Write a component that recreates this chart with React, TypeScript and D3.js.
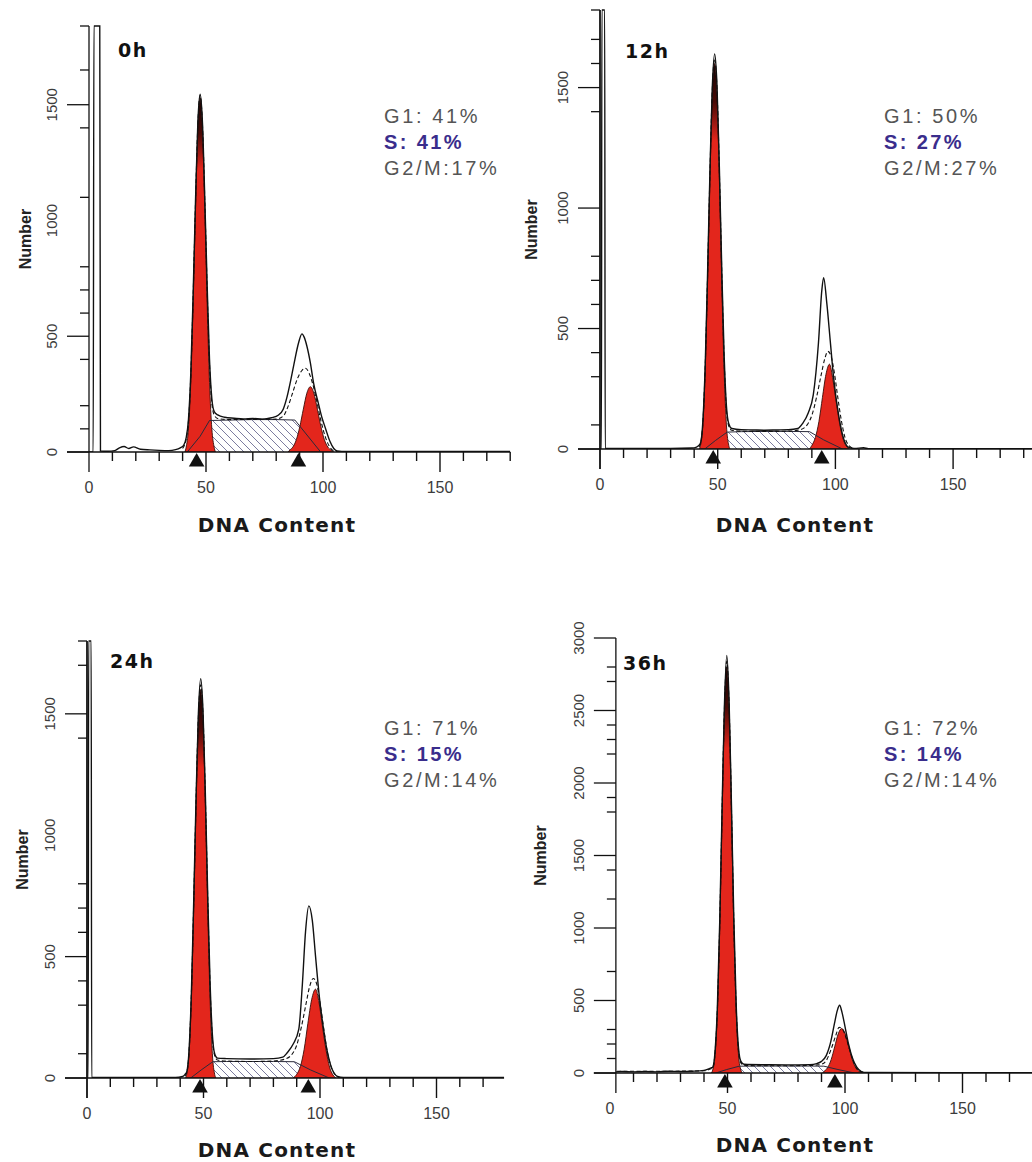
import React from 'react';
import * as d3 from 'd3';

type Pt = [number, number];

// ---------------- labels ----------------
const timeLabels = ['0h', '12h', '24h', '36h'];
const g1Labels = ['G1: 41%', 'G1: 50%', 'G1: 71%', 'G1: 72%'];
const sLabels = ['S: 41%', 'S: 27%', 'S: 15%', 'S: 14%'];
const g2Labels = ['G2/M:17%', 'G2/M:27%', 'G2/M:14%', 'G2/M:14%'];
const xTickLabels = [0, 50, 100, 150];
const xAxisTitle = 'DNA Content';
const yAxisTitle = 'Number';

const yLabels0 = [0, 500, 1000, 1500];
const yLabels1 = [0, 500, 1000, 1500];
const yLabels2 = [0, 500, 1000, 1500];
const yLabels3 = [0, 500, 1000, 1500, 2000, 2500, 3000];
const yMajor0 = [0, 500, 1500];
const yMajor1 = [0, 500, 1000, 1500];
const yMajor2 = [0, 500, 1500];
const yMajor3 = [0, 500, 1000, 1500, 2000, 2500, 3000];
const yMinor0 = [100, 200, 400, 600, 700, 800, 1100, 1400, 1650, 1840];
const yMinor1 = [100, 300, 400, 600, 700, 800, 1400, 1600, 1700, 1822];
const yMinor2 = [100, 300, 400, 600, 700, 800, 1400, 1700, 1800];
const yMinor3 = [100, 200, 300, 700, 1200, 1400, 1800, 1900, 2200, 2300, 2400, 2700, 2800];

// G1 / G2 mean markers (DNA content)
const markers0 = [46, 89.5];
const markers1 = [48.1, 94.2];
const markers2 = [48.5, 95];
const markers3 = [48.9, 95.7];

// ---------------- 0h ----------------
const g1Red0h: Pt[] = [[41, 0], [41.5, 20], [42.5, 100], [43.5, 300], [44.5, 640], [45.5, 1040], [46.5, 1390], [47.5, 1530], [48.5, 1390], [49.5, 1040], [50.5, 640], [51.5, 300], [52.5, 100], [53.5, 20], [54, 0]];
const g2Red0h: Pt[] = [[85, 0], [86, 10], [87.1, 21], [88.6, 53], [90.1, 110], [91.6, 185], [93.1, 254], [94.6, 282], [96.1, 254], [97.6, 185], [99.1, 110], [100.6, 53], [102.1, 21], [103.6, 7], [104.6, 0]];
const sPhase0h: Pt[] = [[42, 0], [47.5, 68], [51.5, 136], [60, 138], [70, 140], [80, 140], [88, 138], [93.5, 69], [99, 0]];
const data0h: Pt[] = [[0, 0], [1.8, 0], [2.1, 1840], [4.6, 1840], [4.9, 4], [8, 3], [11, 6], [13, 18], [15, 24], [17, 15], [19, 22], [22, 12], [26, 9], [30, 7], [34, 6], [37, 10], [39, 18], [40.5, 30], [41.5, 60], [42.5, 140], [43.5, 340], [44.5, 680], [45.5, 1080], [46.5, 1420], [47.5, 1545], [48.5, 1420], [49.5, 1090], [50.5, 720], [51.5, 400], [52.5, 230], [53.5, 175], [55, 160], [58, 150], [62, 146], [66, 143], [70, 145], [74, 142], [78, 148], [81, 160], [83, 185], [84.6, 237], [86, 300], [87.4, 370], [89.6, 473], [91, 510], [92, 495], [93.1, 458], [94.6, 385], [96, 296], [98.1, 207], [99.5, 150], [101, 104], [103, 45], [104.6, 15], [106, 5], [110, 2], [180, 2]];
const fit0h: Pt[] = [[40, 15], [41.5, 55], [42.5, 130], [43.5, 330], [44.5, 670], [45.5, 1070], [46.5, 1410], [47.5, 1540], [48.5, 1410], [49.5, 1080], [50.5, 700], [51.5, 380], [52.5, 210], [53.5, 160], [55, 145], [60, 140], [70, 141], [80, 142], [83, 155], [85, 195], [87, 255], [89, 315], [91, 352], [92.5, 362], [94, 342], [95.5, 298], [97, 235], [99, 140], [101, 65], [103, 20], [105, 4], [108, 0]];

// ---------------- 12h ----------------
const g1Red12h: Pt[] = [[42.2, 0], [42.7, 15], [43.7, 100], [44.7, 330], [45.7, 700], [46.7, 1120], [47.7, 1470], [48.7, 1600], [49.7, 1470], [50.7, 1120], [51.7, 700], [52.7, 330], [53.7, 100], [54.7, 15], [55.2, 0]];
const g2Red12h: Pt[] = [[89, 0], [90, 15], [91.5, 48], [93, 114], [94.5, 214], [96, 310], [97.5, 352], [99, 285], [100.5, 185], [102, 95], [103.5, 35], [105, 8], [106, 0]];
const sPhase12h: Pt[] = [[44.5, 0], [49, 35], [54, 70], [60, 72], [70, 73], [80, 73], [89, 72], [95, 38], [103, 0]];
const data12h: Pt[] = [[0, 0], [0.6, 0], [0.8, 1822], [2.0, 1822], [2.2, 2], [10, 2], [30, 2], [39, 4], [41, 8], [42, 15], [42.7, 25], [43.7, 115], [44.7, 350], [45.7, 730], [46.7, 1150], [47.7, 1500], [48.7, 1640], [49.7, 1510], [50.7, 1170], [51.7, 760], [52.7, 400], [53.7, 180], [54.7, 105], [56, 85], [60, 80], [65, 79], [70, 78], [75, 79], [80, 80], [84, 85], [86, 105], [88.5, 150], [90.6, 225], [92.8, 440], [94.2, 655], [95, 711], [96.4, 600], [97.8, 450], [99.3, 290], [101.4, 140], [103.6, 40], [105.5, 8], [108, 2], [112, 5], [114, 1], [183.5, 1]];
const fit12h: Pt[] = [[42, 8], [42.7, 22], [43.7, 110], [44.7, 345], [45.7, 720], [46.7, 1140], [47.7, 1490], [48.7, 1620], [49.7, 1495], [50.7, 1155], [51.7, 745], [52.7, 385], [53.7, 165], [54.7, 95], [56, 78], [60, 74], [70, 73], [80, 74], [85, 80], [88, 100], [90, 140], [92, 215], [94, 310], [95.5, 375], [96.8, 405], [98, 390], [99.5, 320], [101, 215], [102.5, 120], [104, 50], [106, 12], [108, 2]];

// ---------------- 24h ----------------
const g1Red24h: Pt[] = [[42.3, 0], [42.8, 15], [43.8, 100], [44.8, 330], [45.8, 700], [46.8, 1120], [47.8, 1470], [48.8, 1600], [49.8, 1470], [50.8, 1120], [51.8, 700], [52.8, 330], [53.8, 100], [54.8, 15], [55.3, 0]];
const g2Red24h: Pt[] = [[88.5, 0], [90, 15], [91.6, 48], [93.2, 118], [94.8, 225], [96.4, 322], [98.1, 366], [99.6, 310], [101.1, 210], [102.6, 115], [104.1, 45], [105.6, 12], [107, 0]];
const sPhase24h: Pt[] = [[44.5, 0], [49, 33], [54, 67], [60, 68], [70, 68], [80, 68], [89, 67], [96, 33], [104, 0]];
const data24h: Pt[] = [[0, 0], [0.5, 0], [0.7, 1800], [1.8, 1800], [2.0, 2], [10, 2], [38, 2], [41, 6], [42, 14], [42.8, 25], [43.8, 115], [44.8, 350], [45.8, 730], [46.8, 1150], [47.8, 1500], [48.8, 1645], [49.8, 1510], [50.8, 1170], [51.8, 760], [52.8, 400], [53.8, 180], [54.8, 100], [56, 82], [60, 80], [70, 78], [80, 80], [84, 86], [86, 105], [88.5, 140], [90.9, 201], [92.4, 381], [93.8, 604], [95.2, 709], [96.7, 649], [98.1, 500], [99.6, 345], [101.7, 190], [103.2, 105], [104.6, 52], [107.5, 7], [110, 2], [179, 2]];
const fit24h: Pt[] = [[42, 8], [42.8, 22], [43.8, 110], [44.8, 345], [45.8, 720], [46.8, 1140], [47.8, 1490], [48.8, 1620], [49.8, 1495], [50.8, 1155], [51.8, 745], [52.8, 385], [53.8, 165], [54.8, 92], [56, 74], [60, 70], [70, 68], [80, 70], [85, 78], [88, 98], [90, 135], [92, 210], [94, 305], [95.5, 375], [97.1, 410], [98.5, 390], [100, 310], [101.5, 210], [103, 115], [105, 40], [107, 8], [109, 0]];

// ---------------- 36h ----------------
const g1Red36h: Pt[] = [[43.2, 0], [43.7, 20], [44.7, 120], [45.7, 420], [46.7, 1000], [47.7, 1780], [48.7, 2500], [49.7, 2800], [50.7, 2500], [51.7, 1780], [52.7, 1000], [53.7, 420], [54.7, 120], [55.7, 20], [56.2, 0]];
const g2Red36h: Pt[] = [[90.5, 0], [91.1, 11], [92.6, 36], [94.1, 92], [95.6, 180], [97.1, 269], [98.6, 307], [100.1, 269], [101.6, 180], [103.1, 92], [104.6, 36], [106.1, 11], [107.5, 0]];
const sPhase36h: Pt[] = [[45, 0], [49.7, 24], [55, 47], [65, 48], [75, 48], [85, 48], [91, 47], [97, 24], [104, 0]];
const data36h: Pt[] = [[2.5, 8], [5, 10], [10, 8], [15, 10], [20, 8], [25, 12], [30, 10], [35, 12], [40, 18], [42, 28], [43, 35], [43.7, 40], [44.7, 150], [45.7, 460], [46.7, 1050], [47.7, 1830], [48.7, 2540], [49.7, 2880], [50.7, 2550], [51.7, 1840], [52.7, 1060], [53.7, 470], [54.7, 170], [55.7, 80], [57, 60], [65, 57], [75, 56], [85, 58], [88, 65], [90, 80], [92, 120], [94, 220], [95.5, 340], [96.7, 430], [97.7, 467], [98.7, 420], [100, 320], [101.5, 200], [103, 110], [105, 40], [107, 10], [109, 3], [179.6, 2]];
const fit36h: Pt[] = [[3, 12], [20, 12], [40, 15], [43, 30], [43.7, 35], [44.7, 140], [45.7, 445], [46.7, 1030], [47.7, 1810], [48.7, 2520], [49.7, 2840], [50.7, 2525], [51.7, 1810], [52.7, 1030], [53.7, 450], [54.7, 150], [55.7, 70], [57, 52], [65, 50], [75, 50], [85, 52], [88, 55], [90, 60], [92, 85], [94, 160], [96, 255], [97.5, 315], [99, 300], [100.5, 240], [102, 160], [103.5, 85], [105, 30], [107, 8], [109, 1]];

// ---------------- layout (positions only) ----------------
const layouts = [
  { x0: 89, ppu: 2.34, xMax: 180, yZero: 452, yTop: 26, yMax: 1840, yAxisAt: 0, titleX: 118, titleY: 57, statX: 384, statY: 123, xTitleX: 277, xTitleY: 532, numX: 25 },
  { x0: 600, ppu: 2.354, xMax: 183.5, yZero: 449, yTop: 10, yMax: 1822, yAxisAt: 0, titleX: 625, titleY: 58, statX: 884, statY: 123, xTitleX: 795, xTitleY: 532, numX: 531 },
  { x0: 87, ppu: 2.33, xMax: 179, yZero: 1078, yTop: 641, yMax: 1800, yAxisAt: 0, titleX: 110, titleY: 668, statX: 384, statY: 735, xTitleX: 277, xTitleY: 1157, numX: 22 },
  { x0: 610, ppu: 2.35, xMax: 179.6, yZero: 1073, yTop: 638, yMax: 3000, yAxisAt: 2.5, titleX: 623, titleY: 670, statX: 884, statY: 735, xTitleX: 795, xTitleY: 1152, numX: 540 },
];

const panels = [
  { g1: g1Red0h, g2: g2Red0h, s: sPhase0h, data: data0h, fit: fit0h, markers: markers0, yLabels: yLabels0, yMajor: yMajor0, yMinor: yMinor0 },
  { g1: g1Red12h, g2: g2Red12h, s: sPhase12h, data: data12h, fit: fit12h, markers: markers1, yLabels: yLabels1, yMajor: yMajor1, yMinor: yMinor1 },
  { g1: g1Red24h, g2: g2Red24h, s: sPhase24h, data: data24h, fit: fit24h, markers: markers2, yLabels: yLabels2, yMajor: yMajor2, yMinor: yMinor2 },
  { g1: g1Red36h, g2: g2Red36h, s: sPhase36h, data: data36h, fit: fit36h, markers: markers3, yLabels: yLabels3, yMajor: yMajor3, yMinor: yMinor3 },
];

const RED = '#e3261c';
const SANS = 'Liberation Sans, Arial, sans-serif';
const WIDE = 'DejaVu Sans, Verdana, sans-serif';

function Panel({ idx }: { idx: number }) {
  const L = layouts[idx];
  const P = panels[idx];
  const x = d3.scaleLinear().domain([0, L.xMax]).range([L.x0, L.x0 + L.xMax * L.ppu]);
  const y = d3.scaleLinear().domain([0, L.yMax]).range([L.yZero, L.yTop]);
  const line = d3.line<Pt>().x((d) => x(d[0])).y((d) => y(d[1])).curve(d3.curveMonotoneX);
  const area = d3.area<Pt>().x((d) => x(d[0])).y0(y(0)).y1((d) => y(d[1])).curve(d3.curveMonotoneX);
  const lineLin = d3.line<Pt>().x((d) => x(d[0])).y((d) => y(d[1]));
  const areaLin = d3.area<Pt>().x((d) => x(d[0])).y0(y(0)).y1((d) => y(d[1]));
  const ax = x(L.yAxisAt);
  const xEnd = x(L.xMax);
  const minorX = d3.range(10, L.xMax + 0.01, 10).filter((v) => v % 50 !== 0);
  const majorX = xTickLabels.filter((v) => v > 0);
  const tri = d3.symbol().type(d3.symbolTriangle).size(105)();
  const clipId = `clip${idx}`;
  const axisW = idx === 0 || idx === 3 ? 1.3 : 1.8;

  return (
    <g>
      <defs>
        <clipPath id={clipId}>
          <rect x={ax} y={L.yTop - 1} width={xEnd - ax} height={L.yZero - L.yTop + 1} />
        </clipPath>
      </defs>
      <g clipPath={`url(#${clipId})`}>
        <path d={areaLin(P.s) || ''} fill="url(#hatch)" stroke="none" />
        <path d={area(P.g2) || ''} fill={RED} stroke="#3a0c08" strokeWidth={0.9} />
        <path d={area(P.g1) || ''} fill="url(#g1grad)" stroke="#3a0c08" strokeWidth={0.9} />
        <path d={lineLin(P.s) || ''} fill="none" stroke="#2a2a3a" strokeWidth={1} />
        <path d={line(P.fit) || ''} fill="none" stroke="#111" strokeWidth={1.1} strokeDasharray="4 2.5" />
        <path d={line(P.data) || ''} fill="none" stroke="#111" strokeWidth={1.4} />
      </g>

      {/* axes */}
      <line x1={ax} x2={ax} y1={L.yTop} y2={L.yZero + 20} stroke="#111" strokeWidth={axisW} />
      <line x1={ax - 22} x2={xEnd} y1={L.yZero} y2={L.yZero} stroke="#111" strokeWidth={1.3} />
      {minorX.map((v) => (
        <line key={`mx${v}`} x1={x(v)} x2={x(v)} y1={L.yZero} y2={L.yZero + 9} stroke="#111" strokeWidth={1.4} />
      ))}
      {majorX.map((v) => (
        <line key={`Mx${v}`} x1={x(v)} x2={x(v)} y1={L.yZero} y2={L.yZero + 20} stroke="#111" strokeWidth={1.4} />
      ))}
      {P.yMinor.map((v) => (
        <line key={`my${v}`} x1={ax - 9} x2={ax} y1={y(v)} y2={y(v)} stroke="#111" strokeWidth={1.3} />
      ))}
      {P.yMajor.map((v) => (
        <line key={`My${v}`} x1={ax - 22} x2={ax} y1={y(v)} y2={y(v)} stroke="#111" strokeWidth={1.3} />
      ))}

      {/* markers */}
      {P.markers.map((v, k) => (
        <path key={`tri${k}`} d={tri || ''} transform={`translate(${x(v)},${L.yZero + 10})`} fill="#111" />
      ))}

      {/* tick labels */}
      {xTickLabels.map((v) => (
        <text key={`xl${v}`} x={x(v)} y={L.yZero + 41} textAnchor="middle" fontFamily={SANS} fontSize={16} fill="#3c3c3c">
          {v}
        </text>
      ))}
      {P.yLabels.map((v) => (
        <text
          key={`yl${v}`}
          transform={`translate(${ax - 32},${y(v)}) rotate(-90)`}
          textAnchor="middle"
          fontFamily={SANS}
          fontSize={15}
          fill="#3c3c3c"
        >
          {v}
        </text>
      ))}

      {/* axis titles */}
      <text x={L.xTitleX} y={L.xTitleY} textAnchor="middle" fontFamily={WIDE} fontWeight="bold" fontSize={20} letterSpacing={1.2} fill="#1a1a1a">
        {xAxisTitle}
      </text>
      <text
        transform={`translate(${L.numX + 5.5},${(L.yTop + L.yZero) / 2}) rotate(-90)`}
        textAnchor="middle"
        fontFamily={SANS}
        fontWeight="bold"
        fontSize={16}
        fill="#222"
      >
        {yAxisTitle}
      </text>

      {/* panel title and stats */}
      <text x={L.titleX} y={L.titleY} fontFamily={WIDE} fontWeight="bold" fontSize={19} letterSpacing={1.5} fill="#111">
        {timeLabels[idx]}
      </text>
      <text x={L.statX} y={L.statY} fontFamily={SANS} fontSize={20} letterSpacing={2.6} fill="#555">
        {g1Labels[idx]}
      </text>
      <text x={L.statX} y={L.statY + 26} fontFamily={SANS} fontWeight="bold" fontSize={20} letterSpacing={2.4} fill="#3a2d8c">
        {sLabels[idx]}
      </text>
      <text x={L.statX} y={L.statY + 52} fontFamily={SANS} fontSize={20} letterSpacing={2.6} fill="#555">
        {g2Labels[idx]}
      </text>
    </g>
  );
}

export default function App() {
  return (
    <svg
      width={1032}
      height={1162}
      viewBox="0 0 1032 1162"
      style={{ position: 'absolute', left: 0, top: 0, background: '#fff' }}
    >
      <defs>
        <pattern id="hatch" width={8} height={8} patternUnits="userSpaceOnUse">
          <path d="M-1,7 L1,9 M0,0 L8,8 M7,-1 L9,1" stroke="#5a5a86" strokeWidth={0.8} />
        </pattern>
        <linearGradient id="g1grad" x1="0" y1="0" x2="0" y2="1">
          <stop offset="0" stopColor="#140404" />
          <stop offset="0.1" stopColor="#4a0a06" />
          <stop offset="0.2" stopColor={RED} />
          <stop offset="1" stopColor={RED} />
        </linearGradient>
      </defs>
      <rect x={0} y={0} width={1032} height={1162} fill="#fff" />
      {layouts.map((_, i) => (
        <Panel key={i} idx={i} />
      ))}
    </svg>
  );
}
